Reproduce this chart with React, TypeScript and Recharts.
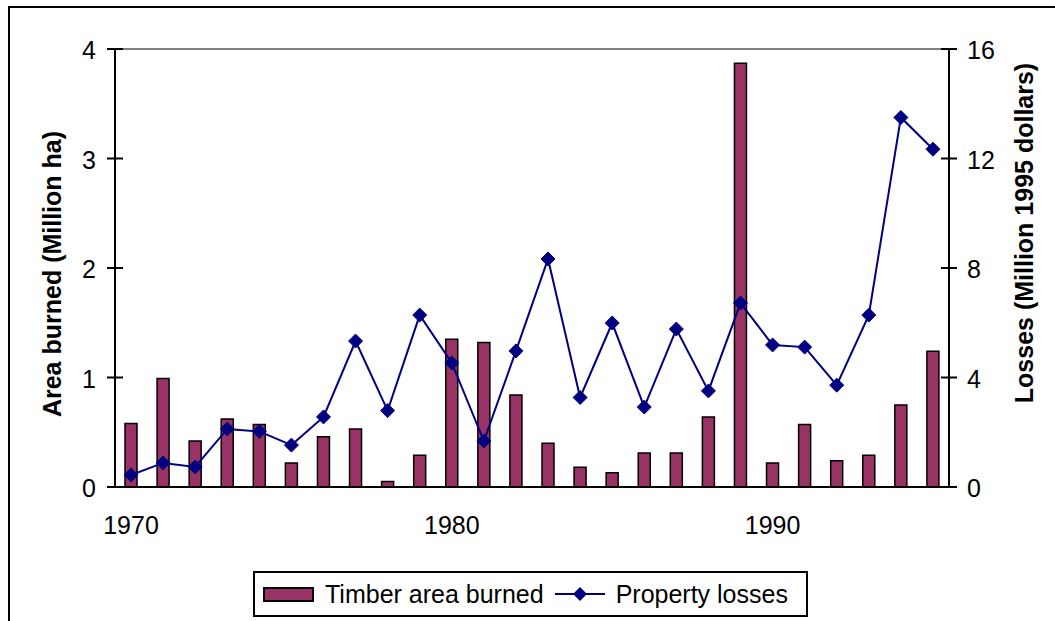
import React from 'react';
import {
  ComposedChart, Bar, Line, XAxis, YAxis, ReferenceLine, Legend, Label,
} from 'recharts';

// data
const years = [
  1970, 1971, 1972, 1973, 1974, 1975, 1976, 1977, 1978, 1979,
  1980, 1981, 1982, 1983, 1984, 1985, 1986, 1987, 1988, 1989,
  1990, 1991, 1992, 1993, 1994, 1995,
];
const timberArea = [
  0.58, 0.99, 0.42, 0.62, 0.57, 0.22, 0.46, 0.53, 0.05, 0.29,
  1.35, 1.32, 0.84, 0.40, 0.18, 0.13, 0.31, 0.31, 0.64, 3.87,
  0.22, 0.57, 0.24, 0.29, 0.75, 1.24,
];
const propertyLosses = [
  0.44, 0.88, 0.73, 2.12, 2.03, 1.53, 2.56, 5.33, 2.79, 6.28,
  4.53, 1.68, 4.97, 8.33, 3.27, 5.99, 2.92, 5.77, 3.51, 6.72,
  5.19, 5.11, 3.72, 6.28, 13.5, 12.34,
];
const areaTicks = [0, 1, 2, 3, 4];
const lossTicks = [0, 4, 8, 12, 16];

const barName = 'Timber area burned';
const lineName = 'Property losses';
const leftTitle = 'Area burned (Million ha)';
const rightTitle = 'Losses (Million 1995 dollars)';

const data = years.map((year, i) => ({
  year,
  area: timberArea[i],
  losses: propertyLosses[i],
}));

const FONT = '"Liberation Sans", Arial, sans-serif';
const BAR_COLOR = '#993366';
const LINE_COLOR = '#000080';

const LeftTick = (props: any) => {
  const { x, y, payload } = props;
  return (
    <g>
      <line x1={x - 8} x2={x + 8} y1={y} y2={y} stroke="#000" strokeWidth={2} />
      <text x={x - 19} y={y + 10} textAnchor="end" fontSize={25} fontFamily={FONT} fill="#000">
        {payload.value}
      </text>
    </g>
  );
};

const RightTick = (props: any) => {
  const { x, y, payload } = props;
  return (
    <g>
      <line x1={x - 8} x2={x + 8} y1={y} y2={y} stroke="#000" strokeWidth={2} />
      <text x={x + 18} y={y + 10} textAnchor="start" fontSize={25} fontFamily={FONT} fill="#000">
        {payload.value}
      </text>
    </g>
  );
};

const YearTick = (props: any) => {
  const { x, y, payload } = props;
  return (
    <text x={x} y={y + 47} textAnchor="middle" fontSize={25} fontFamily={FONT} fill="#000">
      {payload.value}
    </text>
  );
};

const Diamond = (props: any) => {
  const { cx, cy } = props;
  if (cx == null || cy == null) return null;
  const r = 7;
  return (
    <polygon
      points={`${cx},${cy - r} ${cx + r},${cy} ${cx},${cy + r} ${cx - r},${cy}`}
      fill={LINE_COLOR}
      stroke={LINE_COLOR}
      strokeWidth={1}
    />
  );
};

const title = (text: string, cx: number, cy: number) => () => (
  <text
    transform={`translate(${cx},${cy}) rotate(-90)`}
    x={0}
    y={9}
    textAnchor="middle"
    fontSize={25}
    fontWeight="bold"
    fontFamily={FONT}
    fill="#000"
  >
    {text}
  </text>
);

const LegendBox = () => (
  <div
    style={{
      boxSizing: 'border-box',
      width: '100%',
      height: '100%',
      border: '2px solid #000',
      background: '#fff',
      display: 'flex',
      alignItems: 'center',
      paddingLeft: 8,
      fontFamily: FONT,
      fontSize: 25,
      color: '#000',
      whiteSpace: 'nowrap',
    }}
  >
    <span
      style={{
        display: 'inline-block',
        boxSizing: 'border-box',
        width: 51,
        height: 15,
        background: BAR_COLOR,
        border: '2px solid #000',
        marginRight: 11,
      }}
    />
    <span>{barName}</span>
    <svg width={50} height={16} style={{ margin: '0 11px 0 11px' }}>
      <line x1={0} x2={50} y1={8} y2={8} stroke={LINE_COLOR} strokeWidth={2} />
      <polygon points="25,1 32,8 25,15 18,8" fill={LINE_COLOR} />
    </svg>
    <span>{lineName}</span>
  </div>
);

export default function App() {
  return (
    <div
      style={{
        position: 'fixed',
        left: 0,
        top: 0,
        width: 1055,
        height: 621,
        overflow: 'hidden',
        background: '#fff',
      }}
    >
      <div
        style={{
          position: 'absolute',
          left: 8,
          top: 6,
          width: 1200,
          height: 800,
          border: '2px solid #000',
        }}
      />
      <div style={{ position: 'absolute', left: 0, top: 0 }}>
        <ComposedChart
          width={1055}
          height={621}
          data={data}
          margin={{ top: 49, right: 46, bottom: 94, left: 55 }}
        >
          <XAxis
            dataKey="year"
            height={40}
            interval={9}
            tickLine={false}
            tickSize={0}
            tickMargin={0}
            axisLine={{ stroke: '#000', strokeWidth: 2 }}
            tick={(p: any) => <YearTick {...p} />}
          />
          <YAxis
            yAxisId="left"
            width={60}
            domain={[0, 4]}
            ticks={areaTicks}
            interval={0}
            tickLine={false}
            tickSize={0}
            tickMargin={0}
            axisLine={{ stroke: '#000', strokeWidth: 2 }}
            tick={(p: any) => <LeftTick {...p} />}
          >
            <Label content={title(leftTitle, 52, 274)} />
          </YAxis>
          <YAxis
            yAxisId="right"
            orientation="right"
            width={60}
            domain={[0, 16]}
            ticks={lossTicks}
            interval={0}
            tickLine={false}
            tickSize={0}
            tickMargin={0}
            axisLine={{ stroke: '#000', strokeWidth: 2 }}
            tick={(p: any) => <RightTick {...p} />}
          >
            <Label content={title(rightTitle, 1024, 233)} />
          </YAxis>
          <ReferenceLine yAxisId="left" y={4} stroke="#808080" strokeWidth={2} />
          <Bar
            yAxisId="left"
            dataKey="area"
            name={barName}
            fill={BAR_COLOR}
            stroke="#000"
            strokeWidth={1.5}
            barSize={12}
            isAnimationActive={false}
          />
          <Line
            yAxisId="right"
            dataKey="losses"
            name={lineName}
            type="linear"
            stroke={LINE_COLOR}
            strokeWidth={2}
            dot={(p: any) => <Diamond key={p.index} {...p} />}
            activeDot={false}
            isAnimationActive={false}
          />
          <Legend
            layout="vertical"
            align="center"
            verticalAlign="middle"
            wrapperStyle={{ left: 253, top: 571, width: 555, height: 46 }}
            content={() => <LegendBox />}
          />
        </ComposedChart>
      </div>
    </div>
  );
}
